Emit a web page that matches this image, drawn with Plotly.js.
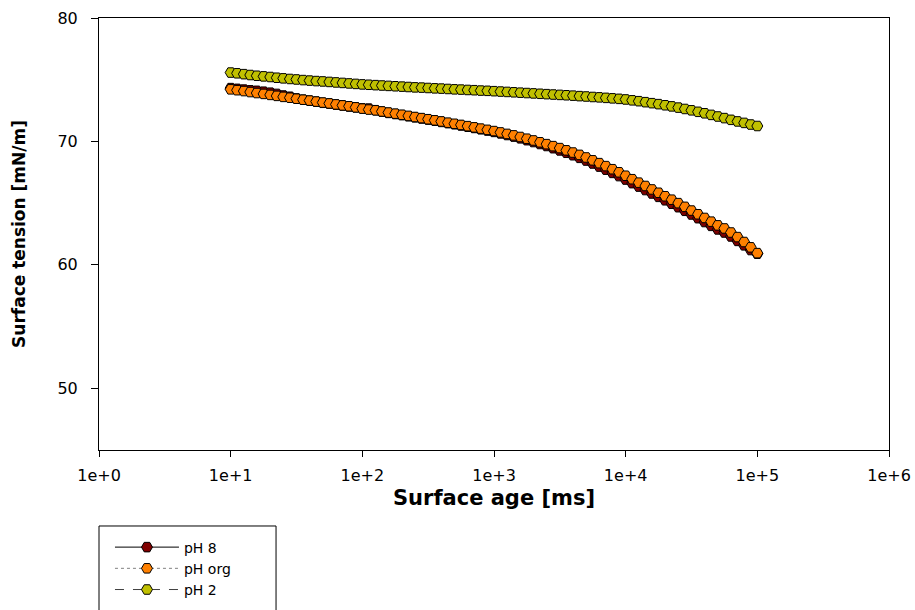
<!DOCTYPE html>
<html>
<head>
<meta charset="utf-8">
<script src="https://cdn.plot.ly/plotly-3.0.1.min.js"></script>
<style>html,body{margin:0;padding:0;background:#fff;}#chart{width:915px;height:610px;}</style>
</head>
<body>
<div id="chart"></div>
<script>
// Surface age [ms]
const surfaceAge = [
  10, 11.2, 12.6, 14.1, 15.8, 17.8, 20.0, 22.4, 25.1, 28.2, 31.6, 35.5, 39.8, 44.7, 50.1, 56.2, 63.1, 70.8, 79.4, 89.1,
  100, 112, 126, 141, 158, 178, 200, 224, 251, 282, 316, 355, 398, 447, 501, 562, 631, 708, 794, 891,
  1000, 1122, 1259, 1413, 1585, 1778, 1995, 2239, 2512, 2818, 3162, 3548, 3981, 4467, 5012, 5623, 6310, 7079, 7943, 8913,
  10000, 11220, 12590, 14130, 15850, 17780, 19950, 22390, 25120, 28180, 31620, 35480, 39810, 44670, 50120, 56230, 63100, 70790, 79430, 89130, 100000
];

// Surface tension [mN/m]
const pH8 = [
  74.32, 74.26, 74.20, 74.14, 74.10, 74.03, 73.95, 73.85, 73.72, 73.62, 73.48, 73.38, 73.30, 73.22, 73.13, 73.06, 72.98, 72.91, 72.83, 72.76,
  72.68, 72.66, 72.53, 72.41, 72.31, 72.22, 72.13, 72.04, 71.95, 71.86, 71.77, 71.68, 71.58, 71.48, 71.39, 71.29, 71.19, 71.09, 70.98, 70.88,
  70.77, 70.65, 70.52, 70.39, 70.25, 70.10, 69.95, 69.79, 69.63, 69.45, 69.27, 69.08, 68.88, 68.67, 68.45, 68.21, 67.96, 67.71, 67.45, 67.19,
  66.91, 66.62, 66.34, 66.06, 65.78, 65.51, 65.23, 64.95, 64.67, 64.38, 64.08, 63.78, 63.47, 63.16, 62.87, 62.62, 62.30, 61.94, 61.58, 61.20, 60.90
];

const pHorg = [
  74.22, 74.15, 74.08, 74.00, 73.92, 73.85, 73.77, 73.69, 73.61, 73.54, 73.46, 73.38, 73.31, 73.23, 73.15, 73.08, 73.00, 72.92, 72.85, 72.76,
  72.66, 72.58, 72.52, 72.43, 72.34, 72.25, 72.16, 72.07, 71.98, 71.89, 71.80, 71.71, 71.62, 71.52, 71.43, 71.34, 71.24, 71.14, 71.04, 70.94,
  70.84, 70.73, 70.61, 70.49, 70.36, 70.22, 70.08, 69.93, 69.78, 69.62, 69.46, 69.28, 69.10, 68.91, 68.70, 68.47, 68.24, 68.00, 67.75, 67.50,
  67.22, 66.94, 66.66, 66.39, 66.11, 65.84, 65.56, 65.28, 65.00, 64.70, 64.40, 64.10, 63.80, 63.50, 63.20, 62.95, 62.62, 62.25, 61.85, 61.42, 60.95
];

const pH2 = [
  75.58, 75.52, 75.45, 75.38, 75.32, 75.27, 75.22, 75.16, 75.11, 75.06, 75.02, 74.97, 74.93, 74.89, 74.86, 74.82, 74.78, 74.74, 74.70, 74.66,
  74.62, 74.59, 74.56, 74.53, 74.50, 74.47, 74.44, 74.41, 74.38, 74.36, 74.33, 74.30, 74.28, 74.25, 74.22, 74.20, 74.17, 74.15, 74.12, 74.10,
  74.07, 74.04, 74.01, 73.98, 73.95, 73.92, 73.89, 73.86, 73.83, 73.80, 73.77, 73.74, 73.71, 73.67, 73.64, 73.60, 73.57, 73.53, 73.49, 73.45,
  73.40, 73.33, 73.26, 73.18, 73.10, 73.02, 72.93, 72.84, 72.74, 72.63, 72.52, 72.40, 72.28, 72.15, 72.02, 71.89, 71.75, 71.62, 71.50, 71.37, 71.25
];

const seriesNames = ['pH 8', 'pH org', 'pH 2'];
const xTickVals = [1, 10, 100, 1000, 10000, 100000, 1000000];
const xTickText = ['1e+0', '1e+1', '1e+2', '1e+3', '1e+4', '1e+5', '1e+6'];
const yTickVals = [50, 60, 70, 80];

const FONT = 'DejaVu Sans, Arial, sans-serif';
const mk = (name, y, color, lineColor, dash) => ({
  type: 'scatter', mode: 'lines+markers', name: name,
  x: surfaceAge, y: y,
  line: {color: lineColor, width: 1, dash: dash},
  marker: {symbol: 'hexagon2', size: 11, color: color, line: {color: '#000', width: 1}}
});

const traces = [
  mk(seriesNames[0], pH8, '#800000', '#000000', 'solid'),
  mk(seriesNames[1], pHorg, '#FF8000', '#808080', 'dot'),
  mk(seriesNames[2], pH2, '#C0C000', '#404040', 'dash')
];

const layout = {
  width: 915, height: 610,
  margin: {l: 99, r: 26, t: 18, b: 160, autoexpand: false},
  paper_bgcolor: '#fff', plot_bgcolor: '#fff',
  font: {family: FONT, color: '#000', size: 16},
  showlegend: true,
  legend: {
    x: 0.0139, xanchor: 'left', y: -0.1887, yanchor: 'top',
    bgcolor: 'rgba(0,0,0,0)', borderwidth: 0,
    font: {family: FONT, size: 14, color: '#000'},
    itemwidth: 64, tracegroupgap: 0
  },
  xaxis: {
    type: 'log', range: [0, 6], automargin: false,
    tickvals: xTickVals, ticktext: xTickText,
    ticks: 'outside', ticklen: 6, tickwidth: 1, tickcolor: '#000',
    ticklabelstandoff: 5,
    showline: true, linecolor: '#000', linewidth: 1, mirror: true,
    showgrid: false, zeroline: false,
    tickfont: {family: FONT, size: 16, color: '#000'},
    title: {text: '<b>Surface age [ms]</b>', font: {family: FONT, size: 21, color: '#000'}, standoff: 6}
  },
  yaxis: {
    range: [45, 80], automargin: false,
    tickvals: yTickVals,
    ticks: 'outside', ticklen: 7, tickwidth: 1, tickcolor: '#000',
    ticklabelstandoff: 10,
    showline: true, linecolor: '#000', linewidth: 1, mirror: true,
    showgrid: false, zeroline: false,
    tickfont: {family: FONT, size: 16, color: '#000'},
    title: {text: '<b>Surface tension [mN/m]</b>', font: {family: FONT, size: 17, color: '#000'}, standoff: 27}
  },
  shapes: [{
    type: 'rect', xref: 'paper', yref: 'paper',
    x0: 0, x1: 0.2241, y0: -0.1759, y1: -0.40,
    line: {color: '#000', width: 1}, fillcolor: 'rgba(0,0,0,0)', layer: 'above'
  }]
};

Plotly.newPlot('chart', traces, layout, {staticPlot: true, displayModeBar: false});
</script>
</body>
</html>
